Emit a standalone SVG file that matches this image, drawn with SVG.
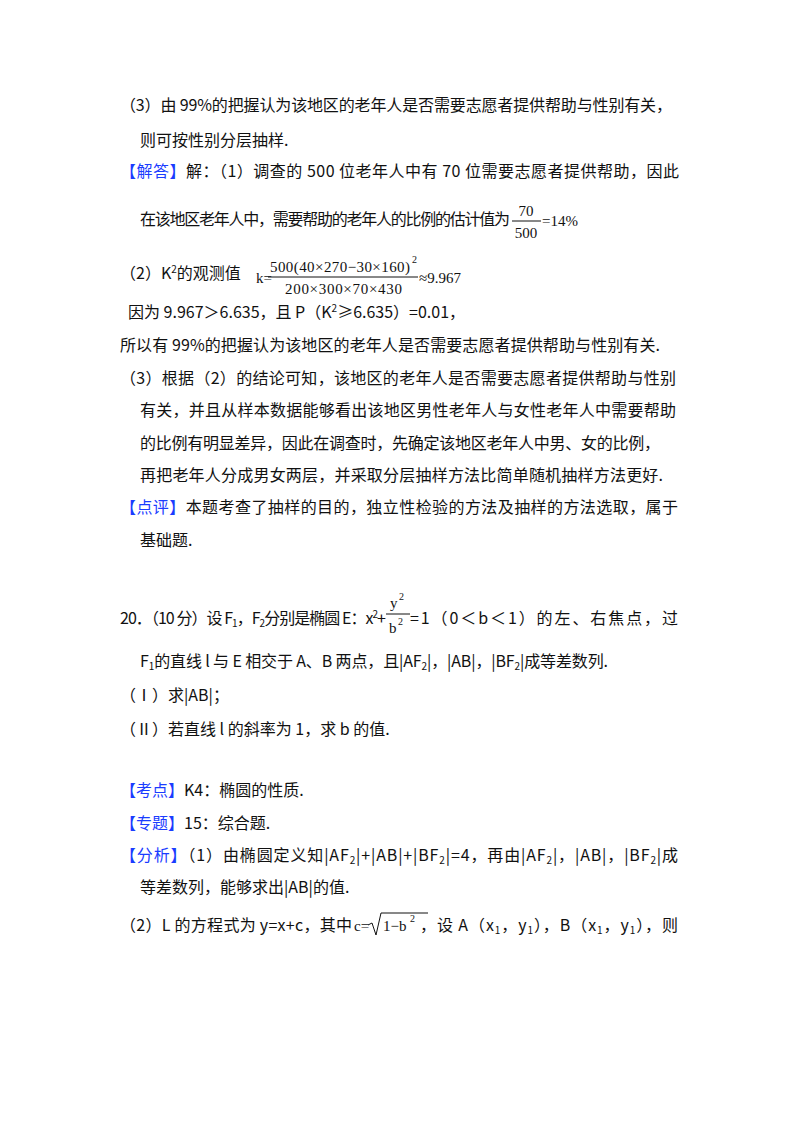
<svg xmlns="http://www.w3.org/2000/svg" width="800" height="1132" viewBox="0 0 800 1132">
<style>
text{font-family:"Noto Sans CJK SC","Noto Sans",sans-serif;font-size:16px;fill:#111}
.b{fill:#1a3cff}
.m{font-family:"Liberation Serif",serif;font-size:15px}
.s{font-size:10px}
</style>
<rect width="800" height="1132" fill="#fff"/>
<text x="120" y="111" textLength="552" lengthAdjust="spacing">（3）由 99%的把握认为该地区的老年人是否需要志愿者提供帮助与性别有关，</text>
<text x="140" y="146">则可按性别分层抽样.</text>
<text x="120" y="177" textLength="559" lengthAdjust="spacing"><tspan class="b">【解答】</tspan>解：（1）调查的 500 位老年人中有 70 位需要志愿者提供帮助，因此</text>
<text x="140" y="225" textLength="370" lengthAdjust="spacing">在该地区老年人中，需要帮助的老年人的比例的估计值为</text>
<text class="m" x="526" y="216" text-anchor="middle">70</text>
<line x1="512" y1="221" x2="541" y2="221" stroke="#111"/>
<text class="m" x="526" y="238" text-anchor="middle">500</text>
<text class="m" x="542" y="226">=14%</text>
<text x="120" y="279">（2）K<tspan class="s" dy="-6">2</tspan><tspan dy="6">的观测值</tspan></text>
<text class="m" x="256" y="283">k=</text>
<text class="m" x="270" y="272" textLength="140" lengthAdjust="spacing">500(40×270−30×160)</text>
<text class="m s" x="412" y="263">2</text>
<line x1="268" y1="277" x2="418" y2="277" stroke="#111"/>
<text class="m" x="285" y="294" textLength="117" lengthAdjust="spacing">200×300×70×430</text>
<text class="m" x="419" y="283">≈9.967</text>
<text x="128" y="318">因为 9.967＞6.635，且 P（K<tspan class="s" dy="-6">2</tspan><tspan dy="6">≥6.635）=0.01，</tspan></text>
<text x="120" y="351" textLength="540" lengthAdjust="spacing">所以有 99%的把握认为该地区的老年人是否需要志愿者提供帮助与性别有关.</text>
<text x="120" y="384" textLength="556" lengthAdjust="spacing">（3）根据（2）的结论可知，该地区的老年人是否需要志愿者提供帮助与性别</text>
<text x="140" y="416" textLength="536" lengthAdjust="spacing">有关，并且从样本数据能够看出该地区男性老年人与女性老年人中需要帮助</text>
<text x="140" y="449" textLength="520" lengthAdjust="spacing">的比例有明显差异，因此在调查时，先确定该地区老年人中男、女的比例，</text>
<text x="140" y="481" textLength="523" lengthAdjust="spacing">再把老年人分成男女两层，并采取分层抽样方法比简单随机抽样方法更好.</text>
<text x="120" y="513" textLength="558" lengthAdjust="spacing"><tspan class="b">【点评】</tspan>本题考查了抽样的目的，独立性检验的方法及抽样的方法选取，属于</text>
<text x="140" y="546">基础题.</text>
<text x="120" y="624" textLength="266" lengthAdjust="spacing">20．（10 分）设 F<tspan class="s" dy="3">1</tspan><tspan dy="-3">，F</tspan><tspan class="s" dy="3">2</tspan><tspan dy="-3">分别是椭圆 E：x</tspan><tspan class="s" dy="-6">2</tspan><tspan dy="6">+</tspan></text>
<text class="m" x="390" y="608">y</text><text class="m s" x="399" y="600">2</text>
<line x1="386" y1="614" x2="410" y2="614" stroke="#111"/>
<text class="m" x="389" y="633">b</text><text class="m s" x="398" y="625">2</text>
<text x="410" y="624" textLength="268" lengthAdjust="spacing">=1（0＜b＜1）的左、右焦点，过</text>
<text x="140" y="667" textLength="468" lengthAdjust="spacing">F<tspan class="s" dy="3">1</tspan><tspan dy="-3">的直线 l 与 E 相交于 A、B 两点，且|AF</tspan><tspan class="s" dy="3">2</tspan><tspan dy="-3">|，|AB|，|BF</tspan><tspan class="s" dy="3">2</tspan><tspan dy="-3">|成等差数列.</tspan></text>
<text x="120" y="701">（Ⅰ）求|AB|；</text>
<text x="120" y="735">（Ⅱ）若直线 l 的斜率为 1，求 b 的值.</text>
<text x="120" y="796"><tspan class="b">【考点】</tspan>K4：椭圆的性质.</text>
<text x="120" y="829"><tspan class="b">【专题】</tspan>15：综合题.</text>
<text x="120" y="861" textLength="558" lengthAdjust="spacing"><tspan class="b">【分析】</tspan>（1）由椭圆定义知|AF<tspan class="s" dy="3">2</tspan><tspan dy="-3">|+|AB|+|BF</tspan><tspan class="s" dy="3">2</tspan><tspan dy="-3">|=4，再由|AF</tspan><tspan class="s" dy="3">2</tspan><tspan dy="-3">|，|AB|，|BF</tspan><tspan class="s" dy="3">2</tspan><tspan dy="-3">|成</tspan></text>
<text x="140" y="893">等差数列，能够求出|AB|的值.</text>
<text x="120" y="931" textLength="232" lengthAdjust="spacing">（2）L 的方程式为 y=x+c，其中</text>
<text class="m" x="354" y="931">c=</text>
<path d="M368 925 L372 923 L376 935 L381 913 L428 913" fill="none" stroke="#111"/>
<text class="m" x="383" y="931">1−b</text><text class="m s" x="410" y="922">2</text>
<text x="420" y="931" textLength="258" lengthAdjust="spacing">，设 A（x<tspan class="s" dy="3">1</tspan><tspan dy="-3">，y</tspan><tspan class="s" dy="3">1</tspan><tspan dy="-3">），B（x</tspan><tspan class="s" dy="3">1</tspan><tspan dy="-3">，y</tspan><tspan class="s" dy="3">1</tspan><tspan dy="-3">），则</tspan></text>
</svg>
